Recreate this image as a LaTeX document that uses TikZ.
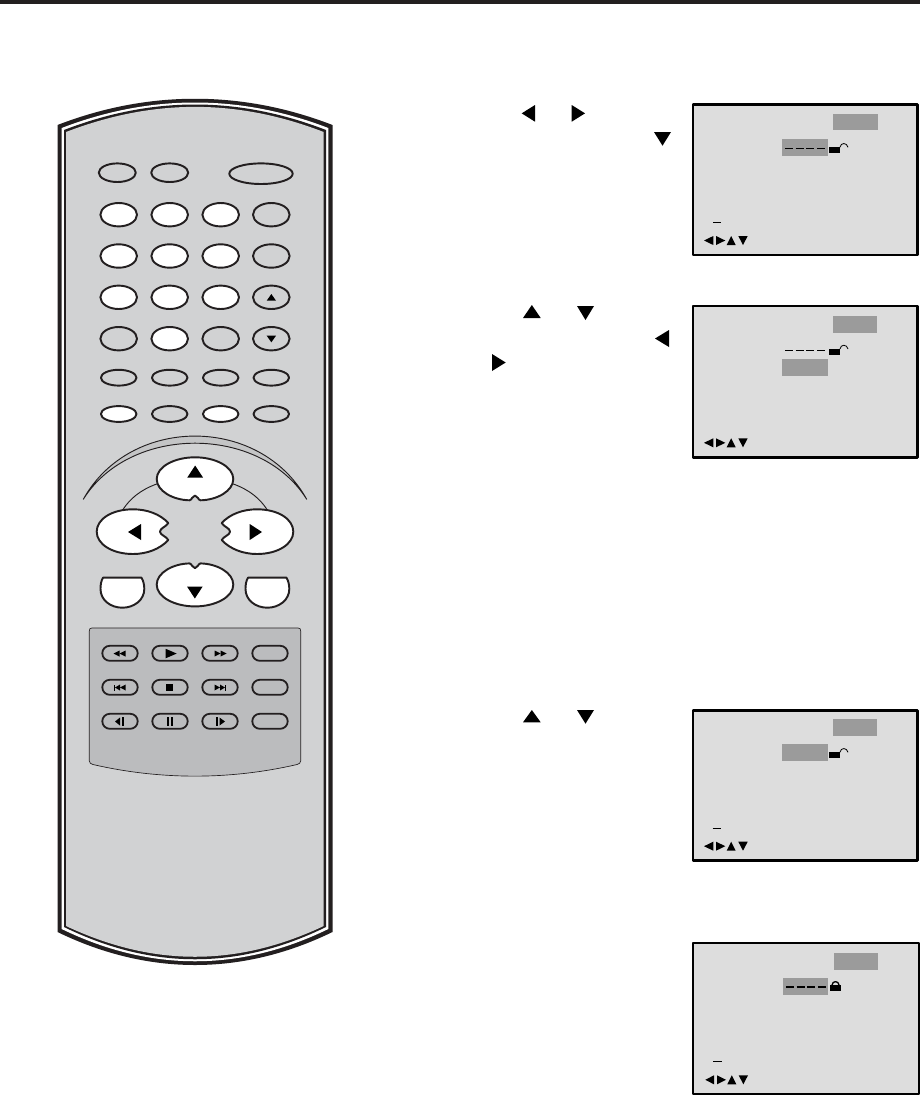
\documentclass[tikz,border=0pt]{standalone}
\definecolor{ink}{HTML}{231F20}
\definecolor{body}{HTML}{D1D2D3}
\definecolor{panel}{HTML}{BBBCBE}
\definecolor{scr}{HTML}{DDDDDD}
\definecolor{hl}{HTML}{9B9B9B}
\tikzset{
  gbtn/.style={draw=ink,line width=1.45pt,fill=body},
  wbtn/.style={draw=ink,line width=1.45pt,fill=white},
  capbtn/.style={draw=ink,line width=1.35pt,fill=panel,rounded corners=5.6pt},
  screenbox/.style={draw=black,line width=1.7pt,fill=scr},
  rule/.style={draw=black,line width=.8pt}
}
% triangles: x1 x2 y1 y2
\newcommand\tL[4]{\fill[black] (#2,#3)--(#2,#4)--(#1,{(#3+#4)/2})--cycle;}
\newcommand\tR[4]{\fill[black] (#1,#3)--(#1,#4)--(#2,{(#3+#4)/2})--cycle;}
\newcommand\tU[4]{\fill[black] (#1,#4)--(#2,#4)--({(#1+#2)/2},#3)--cycle;}
\newcommand\tD[4]{\fill[black] (#1,#3)--(#2,#3)--({(#1+#2)/2},#4)--cycle;}
\newcommand\arrowsrow[1]{%
  \tL{704}{713.3}{#1}{#1+9}\tR{716}{725.3}{#1}{#1+9}\tU{726.7}{735.7}{#1}{#1+9}\tD{738.3}{747.7}{#1}{#1+9}}
\newcommand\openlock[1]{%
  \fill[black] (829,#1) rectangle (840,#1+5.8);
  \draw[black,line width=.6pt] (840,#1) .. controls (840.5,#1-5) and (847,#1-5) .. (848,#1);}
\newcommand\dashes[1]{%
  \foreach \a in {785,795.6,806.2,816.8}{\draw[rule] (\a,#1)--(\a+8,#1);}}
\begin{document}
\begin{tikzpicture}[x=.75pt,y=-.75pt,line join=round]
\useasboundingbox (0,0) rectangle (920,1096);
\fill[white] (0,0) rectangle (920,1096);
\fill[ink] (0,0) rectangle (920,4);
% remote body
\fill[ink] (57.5,125) .. controls (148,90) and (242,90) .. (332.5,125) -- (332.5,932)
  .. controls (242,976) and (148,976) .. (57.5,932) -- cycle;
\fill[white] (61.7,128) .. controls (150,94) and (240,94) .. (328.3,128) -- (328.3,929)
  .. controls (240,972) and (150,972) .. (61.7,929) -- cycle;
\fill[ink] (64,130) .. controls (152,96) and (238,96) .. (326,130) -- (326,927)
  .. controls (238,970) and (152,970) .. (64,927) -- cycle;
\fill[body] (66,132) .. controls (153,98.5) and (237,98.5) .. (323.7,132) -- (323.7,926)
  .. controls (237,967) and (153,967) .. (66,926) -- cycle;
% upper buttons
\draw[gbtn] (117.3,172.7) ellipse [x radius=18.5,y radius=9.3];
\draw[gbtn] (169.7,172.7) ellipse [x radius=18.5,y radius=9.3];
\draw[gbtn] (261,173.7) ellipse [x radius=31.7,y radius=10.3];
\foreach \x/\y/\s in {118.7/214.7/wbtn,169.7/214.7/wbtn,220.7/214.7/wbtn,271.3/214.7/gbtn,
  118.7/256/wbtn,169.7/256/wbtn,220.7/256/wbtn,271.3/256/gbtn,
  118.7/297.3/wbtn,169.7/297.3/wbtn,220.7/297.3/wbtn,271.3/297.3/gbtn,
  118.7/338.7/gbtn,169.7/338.7/wbtn,220.7/338.7/gbtn,271.3/338.7/gbtn}
  {\draw[\s] (\x,\y) ellipse [x radius=18.3,y radius=11.7];}
\foreach \x/\y/\s in {118.7/377.7/gbtn,169.7/377.7/gbtn,220.7/377.7/gbtn,271.3/377.7/gbtn,
  118.7/414/wbtn,169.7/414/gbtn,220.7/414/wbtn,271.3/414/gbtn}
  {\draw[\s] (\x,\y) ellipse [x radius=17.8,y radius=7.9];}
\tU{266.7}{276}{294}{300.7}
\tD{266.7}{276}{335.7}{342.3}
% nav arcs
\draw[draw=ink,line width=.7pt,fill=panel!60!body] (83.3,499.3) .. controls (130,415) and (260,415) .. (306.7,499.3)
  .. controls (260,424.5) and (130,424.5) .. cycle;
\draw[ink,line width=.7pt] (156.7,484) .. controls (140,490) and (130,499) .. (123.3,509);
\draw[ink,line width=.7pt] (233.3,484) .. controls (250,490) and (260,499) .. (266.7,509);
% nav ellipses with notch
\newcommand\navbtn{(-5.5,21.3) .. controls (-3,21) and (-3,17) .. (0,16.5) .. controls (3,17) and (3,21) .. (5.5,21.3)
   .. controls (22,21) and (38.3,12) .. (38.3,0) .. controls (38.3,-12) and (21,-21.7) .. (0,-21.7)
   .. controls (-21,-21.7) and (-38.3,-12) .. (-38.3,0) .. controls (-38.3,12) and (-22,21) .. cycle}
\begin{scope}[shift={(195,479)}]
 \draw[wbtn] \navbtn;
\end{scope}
\begin{scope}[shift={(195,584.7)},yscale=-1]
 \draw[wbtn] \navbtn;
\end{scope}
\newcommand\sidebtn{(168.3,523) .. controls (160,514) and (147,509.3) .. (133,509.3)
   .. controls (112,509.3) and (96.7,519) .. (96.7,531.7) .. controls (96.7,544) and (112,554) .. (133,554)
   .. controls (147,554) and (160,549) .. (168.3,540) .. controls (166,536) and (160,535) .. (160,531.7)
   .. controls (160,528) and (166,527) .. cycle}
\draw[wbtn] \sidebtn;
\begin{scope}[shift={(390,0)},xscale=-1]
 \draw[wbtn] \sidebtn;
\end{scope}
\tU{187.3}{203}{465.5}{477.5}
\tL{128}{141}{524}{540}
\tR{249.7}{262}{524}{540}
\tD{187}{202.7}{586.5}{598.5}
% side U buttons
\newcommand\ubtn{(103,577.7) -- (141.5,577.7) .. controls (143.5,581) and (144.3,585) .. (144.3,589)
  .. controls (144.3,600) and (134,607.7) .. (122.4,607.7) .. controls (110.5,607.7) and (100.5,600) .. (100.5,589)
  .. controls (100.5,585) and (101,581) .. cycle}
\draw[wbtn] \ubtn;
\begin{scope}[shift={(145,0)}]
 \draw[wbtn] \ubtn;
\end{scope}
% transport panel
\draw[draw=ink,line width=.5pt,fill=panel] (92,628) -- (298,628) .. controls (300,628) and (300.7,629) .. (300.7,631)
  -- (300.7,761) .. controls (300.7,763) and (299,764) .. (297,764.5)
  .. controls (230,780) and (160,780) .. (93,764.5) .. controls (91,764) and (89.3,763) .. (89.3,761)
  -- (89.3,631) .. controls (89.3,629) and (90,628) .. (92,628) -- cycle;
\foreach \x in {120,170,220,270}\foreach \y in {653.3,687.3,721.3}
  {\draw[capbtn] (\x-17.7,\y-7.5) rectangle (\x+17.7,\y+7.5);}
% transport icons
\tL{113.5}{119.5}{650.5}{656.5}\tL{119.5}{125.5}{650.5}{656.5}
\tR{165.7}{176.7}{648.8}{658.3}
\tR{214.7}{220.7}{650.5}{656.5}\tR{220.7}{226.7}{650.5}{656.5}
\fill[black] (113.8,684.5) rectangle (115.2,690.5);
\tL{115}{120}{684.5}{690.5}\tL{120}{125.7}{684.5}{690.5}
\fill[black] (166,683.8) rectangle (173.3,690.8);
\tR{214.5}{220}{684.5}{690.5}\tR{220}{225}{684.5}{690.5}
\fill[black] (225,684.5) rectangle (226.3,690.5);
\tL{115}{120}{717.5}{725.5}\fill[black] (121.5,716.8) rectangle (124,726);
\fill[black] (166.7,716.8) rectangle (168.7,726);\fill[black] (171,716.8) rectangle (173,726);
\fill[black] (215.5,716.8) rectangle (218,726);\tR{219.5}{225}{717.5}{725.5}
% step triangles
\tL{521.7}{535}{105}{121.7}\tR{571.7}{585}{105}{121.7}\tD{654}{671}{132}{145.7}
\tU{523}{540.7}{305}{318}\tD{577}{594}{306}{320}\tL{655}{669}{330}{347}\tR{492}{505.7}{354}{371}
\tU{523}{540.7}{710}{722.3}\tD{577}{594}{710}{723.7}
% screen 1
\draw[screenbox] (693,104.5) rectangle (917.5,255);
\fill[hl] (833,114) rectangle (878,130);
\fill[hl] (782,139) rectangle (828,156);
\dashes{148.3}\openlock{147.3}
\draw[rule] (713,222.3)--(721,222.3);
\arrowsrow{236}
% screen 2
\draw[screenbox] (693,306) rectangle (917.5,457.5);
\fill[hl] (833,316) rectangle (877,333);
\fill[hl] (782,359) rectangle (828,376);
\dashes{350.3}\openlock{349}
\arrowsrow{438.3}
% screen 3
\draw[screenbox] (693,710.5) rectangle (917.5,860.5);
\fill[hl] (833,719) rectangle (877,736);
\fill[hl] (782,744) rectangle (828,761);
\openlock{752.3}
\draw[rule] (712.5,828.3)--(721,828.3);
\arrowsrow{841.7}
% screen 4
\draw[screenbox] (693,943) rectangle (919,1094);
\fill[hl] (834,953) rectangle (878,970);
\fill[hl] (783,978) rectangle (828,995);
\foreach \a in {786,796.6,807.2,817.8}{\draw[rule] (\a,987)--(\a+8,987);}
\fill[black] (830,985) rectangle (841,991);
\draw[black,line width=1pt] (832,985) .. controls (832.5,980.5) and (838.5,980.5) .. (839,985);
\draw[rule] (713,1061.3)--(722,1061.3);
\tL{705.3}{714}{1075.3}{1084.3}\tR{717}{726}{1075.3}{1084.3}\tU{727.3}{736.3}{1075.3}{1084.3}\tD{738.7}{748}{1075.3}{1084.3}
\end{tikzpicture}
\end{document}
